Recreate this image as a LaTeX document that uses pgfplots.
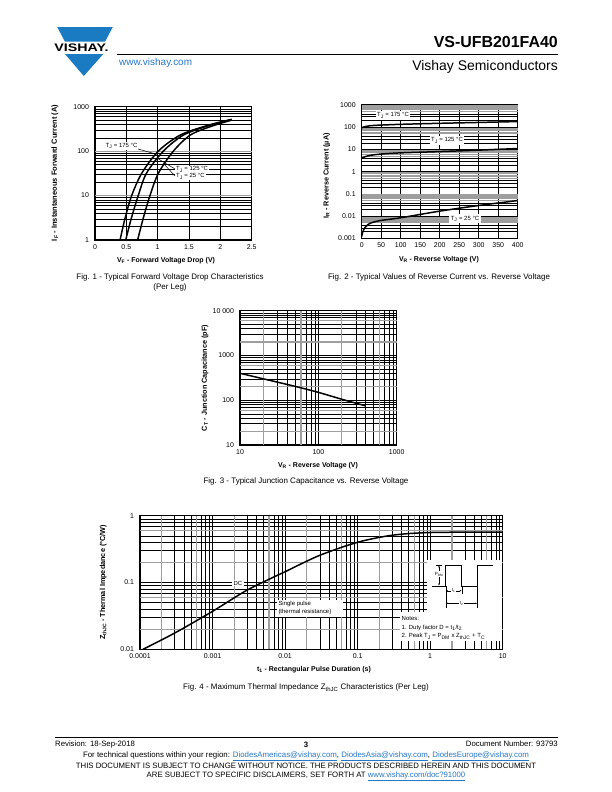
\documentclass[border=0pt]{standalone}
\usepackage{fontspec}
\setmainfont{Liberation Sans}
\usepackage{pgfplots}
\pgfplotsset{compat=1.18}
\usetikzlibrary{arrows.meta}
\definecolor{vblue}{RGB}{26,122,194}
\definecolor{lblue}{RGB}{40,120,200}
\newcommand\fs[1]{\fontsize{#1}{#1}\selectfont}
\pgfplotsset{
  ds/.style={
    scale only axis, anchor=south west,
    axis line style={line width=1.1pt},
    tick label style={font=\fs{7}},
    /pgf/number format/assume math mode=true,
    grid=both,
    major grid style={black,line width=0.5pt},
    minor grid style={black,line width=0.32pt},
    major tick length=0pt, minor tick length=0pt,
    xticklabel style={yshift=-1bp},
    yticklabel style={xshift=-2.5bp},
  },
  cv/.style={black, line width=1.5pt, no marks, smooth},
  gx/.style={extra x tick style={grid=major, major grid style={black!38,line width=1.1pt}}, extra x tick labels={}},
  gy/.style={extra y tick style={grid=major, major grid style={black!38,line width=1.1pt}}, extra y tick labels={}},
}
\begin{document}
\begin{tikzpicture}
\path[use as bounding box, fill=white] (0,0) rectangle (612bp,-792bp);

% ---------------- Fig. 1 ----------------
\begin{axis}[ds, gy, at={(95bp,-240bp)}, width=156.7bp, height=133.3bp,
  xmin=0, xmax=2.5, ymin=1, ymax=1000, ymode=log,
  xtick={0,0.5,1,1.5,2,2.5}, xticklabels={0,0.5,1,1.5,2,2.5},
  ytick={1,10,100,1000}, yticklabels={1,10,100,1000},
  extra y ticks={10,100}]
\addplot[cv] coordinates {(0.40,1) (0.48,3.1) (0.585,10) (0.745,31.6) (1.01,100) (1.36,230) (1.8,380) (2.18,520)};
\addplot[cv] coordinates {(0.49,1) (0.58,3.1) (0.69,10) (0.82,31.6) (1.09,100) (1.41,230) (1.8,370) (2.18,510)};
\addplot[cv] coordinates {(0.68,1) (0.77,3.1) (0.877,10) (1.01,31.6) (1.25,100) (1.52,230) (1.85,360) (2.18,500)};
\end{axis}

% ---------------- Fig. 2 ----------------
\begin{axis}[ds, gy, at={(361.7bp,-238.3bp)}, width=156bp, height=133.3bp,
  xmin=0, xmax=400, ymin=0.001, ymax=1000, ymode=log,
  xtick={0,50,100,150,200,250,300,350,400}, xticklabels={0,50,100,150,200,250,300,350,400},
  ytick={0.001,0.01,0.1,1,10,100,1000}, yticklabels={0.001,0.01,0.1,1,10,100,1000},
  minor ytick={0.002,0.003,0.004,0.02,0.03,0.04,0.2,0.3,0.4,2,3,4,20,30,40,200,300,400},
  extra y ticks={0.005,0.006,0.007,0.008,0.009,0.05,0.06,0.07,0.08,0.09,0.5,0.6,0.7,0.8,0.9,5,6,7,8,9,50,60,70,80,90,500,600,700,800,900}]
\addplot[cv] coordinates {(0,95) (10,108) (25,118) (50,125) (100,135) (200,150) (300,164) (400,180)};
\addplot[cv] coordinates {(0,4) (10,4.8) (25,5.5) (50,6.2) (100,7) (200,8) (300,9.3) (400,11)};
\addplot[cv] coordinates {(0,0.0012) (3,0.002) (8,0.003) (15,0.004) (25,0.005) (50,0.0064) (100,0.0084) (200,0.0167) (300,0.030) (400,0.05)};
\end{axis}

% ---------------- Fig. 3 ----------------
\begin{axis}[ds, gx, gy, at={(240bp,-445bp)}, width=156.7bp, height=134.3bp,
  xmin=10, xmax=1000, ymin=10, ymax=10000, xmode=log, ymode=log,
  xtick={10,100,1000}, xticklabels={10,100,1000},
  ytick={10,100,1000,10000}, yticklabels={10,100,1000,{10 000}},
  minor xtick={30,40,50,70,80,90,300,400,500,700,800,900},
  minor ytick={30,40,50,70,80,90,300,400,500,700,800,900,3000,4000,5000,7000,8000,9000},
  extra x ticks={20,60,200,600}, extra y ticks={20,60,200,600,2000,6000}]
\addplot[cv] coordinates {(10,400) (20,300) (50,205) (100,150) (200,105) (400,75)};
\end{axis}

% ---------------- Fig. 4 ----------------
\begin{axis}[ds, gx, gy, at={(140bp,-649.3bp)}, width=362.7bp, height=133.6bp,
  xmin=0.0001, xmax=10, ymin=0.01, ymax=1, xmode=log, ymode=log,
  xtick={0.0001,0.001,0.01,0.1,1,10}, xticklabels={0.0001,0.001,0.01,0.1,1,10},
  ytick={0.01,0.1,1}, yticklabels={0.01,0.1,1},
  minor xtick={0.0003,0.0004,0.0005,0.0007,0.0008,0.0009,0.003,0.004,0.005,0.007,0.008,0.009,0.03,0.04,0.05,0.07,0.08,0.09,0.3,0.4,0.5,0.7,0.8,0.9,3,4,5,7,8,9},
  minor ytick={0.03,0.04,0.05,0.07,0.08,0.09,0.3,0.4,0.5,0.7,0.8,0.9},
  extra x ticks={0.0002,0.0006,0.002,0.006,0.02,0.06,0.2,0.6,2,6},
  extra y ticks={0.02,0.06,0.2,0.6}]
\addplot[cv] coordinates {(0.00011,0.01) (0.0003,0.0175) (0.001,0.037) (0.003,0.077) (0.01,0.145) (0.03,0.255) (0.1,0.40) (0.3,0.51) (1,0.56) (10,0.57)};
\end{axis}

\begin{scope}[x=1bp,y=-1bp]
% header
\fill[vblue] (57.2,27) -- (112.8,27) -- (105,41.7) -- (65,41.7) -- cycle;
\fill[vblue] (65,54) -- (103.3,54) -- (83.8,76) -- cycle;
\node[font=\bfseries\fs{11}, xscale=1.3, inner sep=0] at (81.5,48) {VISHAY.};
\draw[line width=1.2pt] (117,54.8) -- (558,54.8);
\node[anchor=base east, font=\bfseries\fs{16}, inner sep=0] at (558,47.8) {VS-UFB201FA40};
\node[anchor=base east, font=\fs{14}, inner sep=0] at (558,70.5) {Vishay Semiconductors};
\node[anchor=base west, font=\fs{10}, text=lblue, inner sep=0] at (119,65) {www.vishay.com};

% Fig 1 labels
\node[rotate=90, font=\bfseries\fs{7.5}] at (55,173) {I\textsubscript{F} - Instantaneous Forward Current (A)};
\node[font=\bfseries\fs{7}] at (166,261) {V\textsubscript{F} - Forward Voltage Drop (V)};
\node[font=\fs{8}] at (170,277.7) {Fig. 1 - Typical Forward Voltage Drop Characteristics};
\node[font=\fs{8}] at (170,287) {(Per Leg)};
\draw[line width=0.5pt] (135.7,148.3) -- (156.7,154.3);
\draw[line width=0.5pt] (157.3,158.3) -- (175,169);
\draw[line width=0.5pt] (163.3,163.3) -- (175,176);
\node[fill=white, inner sep=1pt, font=\fs{6}] at (121.5,146) {T\textsubscript{J} = 175 °C};
\node[fill=white, inner sep=1pt, font=\fs{6}, anchor=west] at (175,169.5) {T\textsubscript{J} = 125 °C};
\node[fill=white, inner sep=1pt, font=\fs{6}, anchor=west] at (175,176.5) {T\textsubscript{J} = 25 °C};

% Fig 2 labels
\node[rotate=90, font=\bfseries\fs{7.3}] at (326.7,176) {I\textsubscript{R} - Reverse Current (µA)};
\node[font=\bfseries\fs{7}] at (439,259.3) {V\textsubscript{R} - Reverse Voltage (V)};
\node[font=\fs{8}] at (439,277.7) {Fig. 2 - Typical Values of Reverse Current vs. Reverse Voltage};
\node[fill=white, inner sep=1.5pt, font=\fs{6}] at (393,115.3) {T\textsubscript{J} = 175 °C};
\node[fill=white, inner sep=1.5pt, font=\fs{6}] at (447,140.5) {T\textsubscript{J} = 125 °C};
\node[fill=white, inner sep=1.5pt, font=\fs{6}] at (465,218.7) {T\textsubscript{J} = 25 °C};

% Fig 3 labels
\node[rotate=90, font=\bfseries\fs{7.3}] at (205,378) {C\textsubscript{T} - Junction Capacitance (pF)};
\node[font=\bfseries\fs{7}] at (318,465.7) {V\textsubscript{R} - Reverse Voltage (V)};
\node[font=\fs{8}] at (306,481.5) {Fig. 3 - Typical Junction Capacitance vs. Reverse Voltage};

% Fig 4 labels
\node[rotate=90, font=\bfseries\fs{7.3}] at (103.3,582.5) {Z\textsubscript{thJC} - Thermal Impedance (°C/W)};
\node[font=\bfseries\fs{7}] at (314,670) {t\textsubscript{1} - Rectangular Pulse Duration (s)};
\node[font=\fs{8}] at (306,687.5) {Fig. 4 - Maximum Thermal Impedance Z\textsubscript{thJC} Characteristics (Per Leg)};
\node[fill=white, inner sep=1.2pt, font=\fs{6}] at (238,583) {DC};
\fill[white] (276.7,600) rectangle (343.3,616.7);
\node[anchor=west, font=\fs{6}, inner sep=0] at (278.3,604.3) {Single pulse};
\node[anchor=west, font=\fs{6}, inner sep=0] at (278.3,612.3) {(thermal resistance)};
\fill[white] (427,560) rectangle (501.9,612);
\fill[white] (400,612) rectangle (501.9,641);
\draw[line width=0.8pt] (431.7,586) -- (445.7,586) -- (445.7,565) -- (461.7,565) -- (461.7,586) -- (477.3,586) -- (477.3,565) -- (493.3,565);
\draw[line width=0.4pt] (436,565) -- (442,565) (436,586) -- (442,586);
\draw[line width=0.4pt, -{Stealth[length=2pt]}] (439,575.5) -- (439,565.5);
\draw[line width=0.4pt, -{Stealth[length=2pt]}] (439,576) -- (439,585.5);
\node[fill=white, inner sep=0.6pt, font=\fs{4.5}] at (439,574) {P\textsubscript{DM}};
\draw[line width=0.4pt] (445.7,586) -- (445.7,608) (477.3,586) -- (477.3,608) (461.7,587) -- (461.7,594);
\draw[line width=0.4pt, {Stealth[length=2pt]}-{Stealth[length=2pt]}] (445.9,590.7) -- (461.5,590.7);
\node[fill=white, inner sep=0.6pt, font=\fs{4.5}] at (453.7,590.7) {t\textsubscript{1}};
\draw[line width=0.4pt, {Stealth[length=2pt]}-{Stealth[length=2pt]}] (445.9,603.3) -- (477.1,603.3);
\node[fill=white, inner sep=0.6pt, font=\fs{4.5}] at (461.5,603.3) {t\textsubscript{2}};
\node[anchor=west, font=\fs{6}, inner sep=0] at (401.5,618.5) {Notes:};
\node[anchor=west, font=\fs{6}, inner sep=0] at (401.5,628) {1. Duty factor D = t\textsubscript{1}/t\textsubscript{2}};
\node[anchor=west, font=\fs{6}, inner sep=0] at (401.5,636.5) {2. Peak T\textsubscript{J} = P\textsubscript{DM} x Z\textsubscript{thJC} + T\textsubscript{C}};

% footer
\draw[line width=1pt] (55,737) -- (558,737);
\node[anchor=base west, font=\fs{7.8}, inner sep=0] at (55,746.5) {Revision: 18-Sep-2018};
\node[anchor=base, font=\bfseries\fs{7.8}, inner sep=0] at (306,747.5) {3};
\node[anchor=base east, font=\fs{7.8}, inner sep=0] at (558,746.5) {Document Number: 93793};
\node[anchor=base, font=\fs{7.9}, inner sep=0] at (306,757.5) {For technical questions within your region: \textcolor{lblue}{\underline{DiodesAmericas@vishay.com}}, \textcolor{lblue}{\underline{DiodesAsia@vishay.com}}, \textcolor{lblue}{\underline{DiodesEurope@vishay.com}}};
\node[anchor=base, font=\fs{7.8}, inner sep=0] at (306,768) {THIS DOCUMENT IS SUBJECT TO CHANGE WITHOUT NOTICE. THE PRODUCTS DESCRIBED HEREIN AND THIS DOCUMENT};
\node[anchor=base, font=\fs{7.8}, inner sep=0] at (306,777.5) {ARE SUBJECT TO SPECIFIC DISCLAIMERS, SET FORTH AT \textcolor{lblue}{\underline{www.vishay.com/doc?91000}}};
\end{scope}
\end{tikzpicture}
\end{document}
